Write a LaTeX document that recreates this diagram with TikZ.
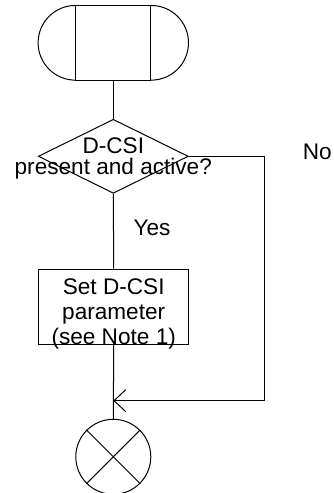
\documentclass[tikz,border=0pt]{standalone}
\usepackage{fontspec}
\setmainfont{Liberation Sans}
\usetikzlibrary{shapes.geometric,arrows.meta}
\tikzset{
  ln/.style={line width=1pt, draw=black},
  txt/.style={inner sep=0pt, font=\fontsize{22.6}{25}\selectfont},
}
\begin{document}
\begin{tikzpicture}[x=1pt,y=-1pt]
\useasboundingbox (0,0) rectangle (334,493);
% terminator
\node[ln, rectangle, minimum width=74.7pt, minimum height=74.7pt, inner sep=0pt] (start) at (113.3,43.3) {};
\draw[ln] (start.north west) arc[start angle=90, end angle=270, radius=37.35pt];
\draw[ln] (start.north east) arc[start angle=90, end angle=-90, radius=37.35pt];
% decision
\node[ln, diamond, minimum width=150pt, minimum height=74pt, inner sep=0pt] (dec) at (113.3,156.3) {};
\node[txt, anchor=base] (q1) at (113.3,153.3) {D-CSI};
\node[txt, anchor=base] (q2) at (113.3,174.3) {present and active?};
% action
\node[ln, rectangle, minimum width=150pt, minimum height=75pt, inner sep=0pt] (act) at (113.7,306.5) {};
\node[txt, anchor=base] (a1) at (113.7,294.3) {Set D-CSI};
\node[txt, anchor=base] (a2) at (113.7,319.3) {parameter};
\node[txt, anchor=base] (a3) at (113.7,344.3) {(see Note 1)};
% end
\node[ln, circle, minimum size=75pt, inner sep=0pt] (end) at (113.3,456.8) {};
\draw[ln] (end.north west) -- (end.south east);
\draw[ln] (end.north east) -- (end.south west);
% labels
\node[txt, anchor=base west] (yes) at (133.3,235) {Yes};
\node[txt, anchor=base west] (no) at (302.7,159) {No};
% connectors
\coordinate (c1) at (264.3,156.3);
\coordinate (c2) at (264.3,400.7);
\coordinate (m) at (113.3,400.7);
\draw[ln] (start.south) -- (dec.north);
\draw[ln] (dec.south) -- (act.north);
\draw[ln] (act.south) -- (end.north);
\draw[ln, -{Straight Barb[length=11.7pt, width=22pt]}] (dec.east) -- (c1) -- (c2) -- (m);
\end{tikzpicture}
\end{document}
